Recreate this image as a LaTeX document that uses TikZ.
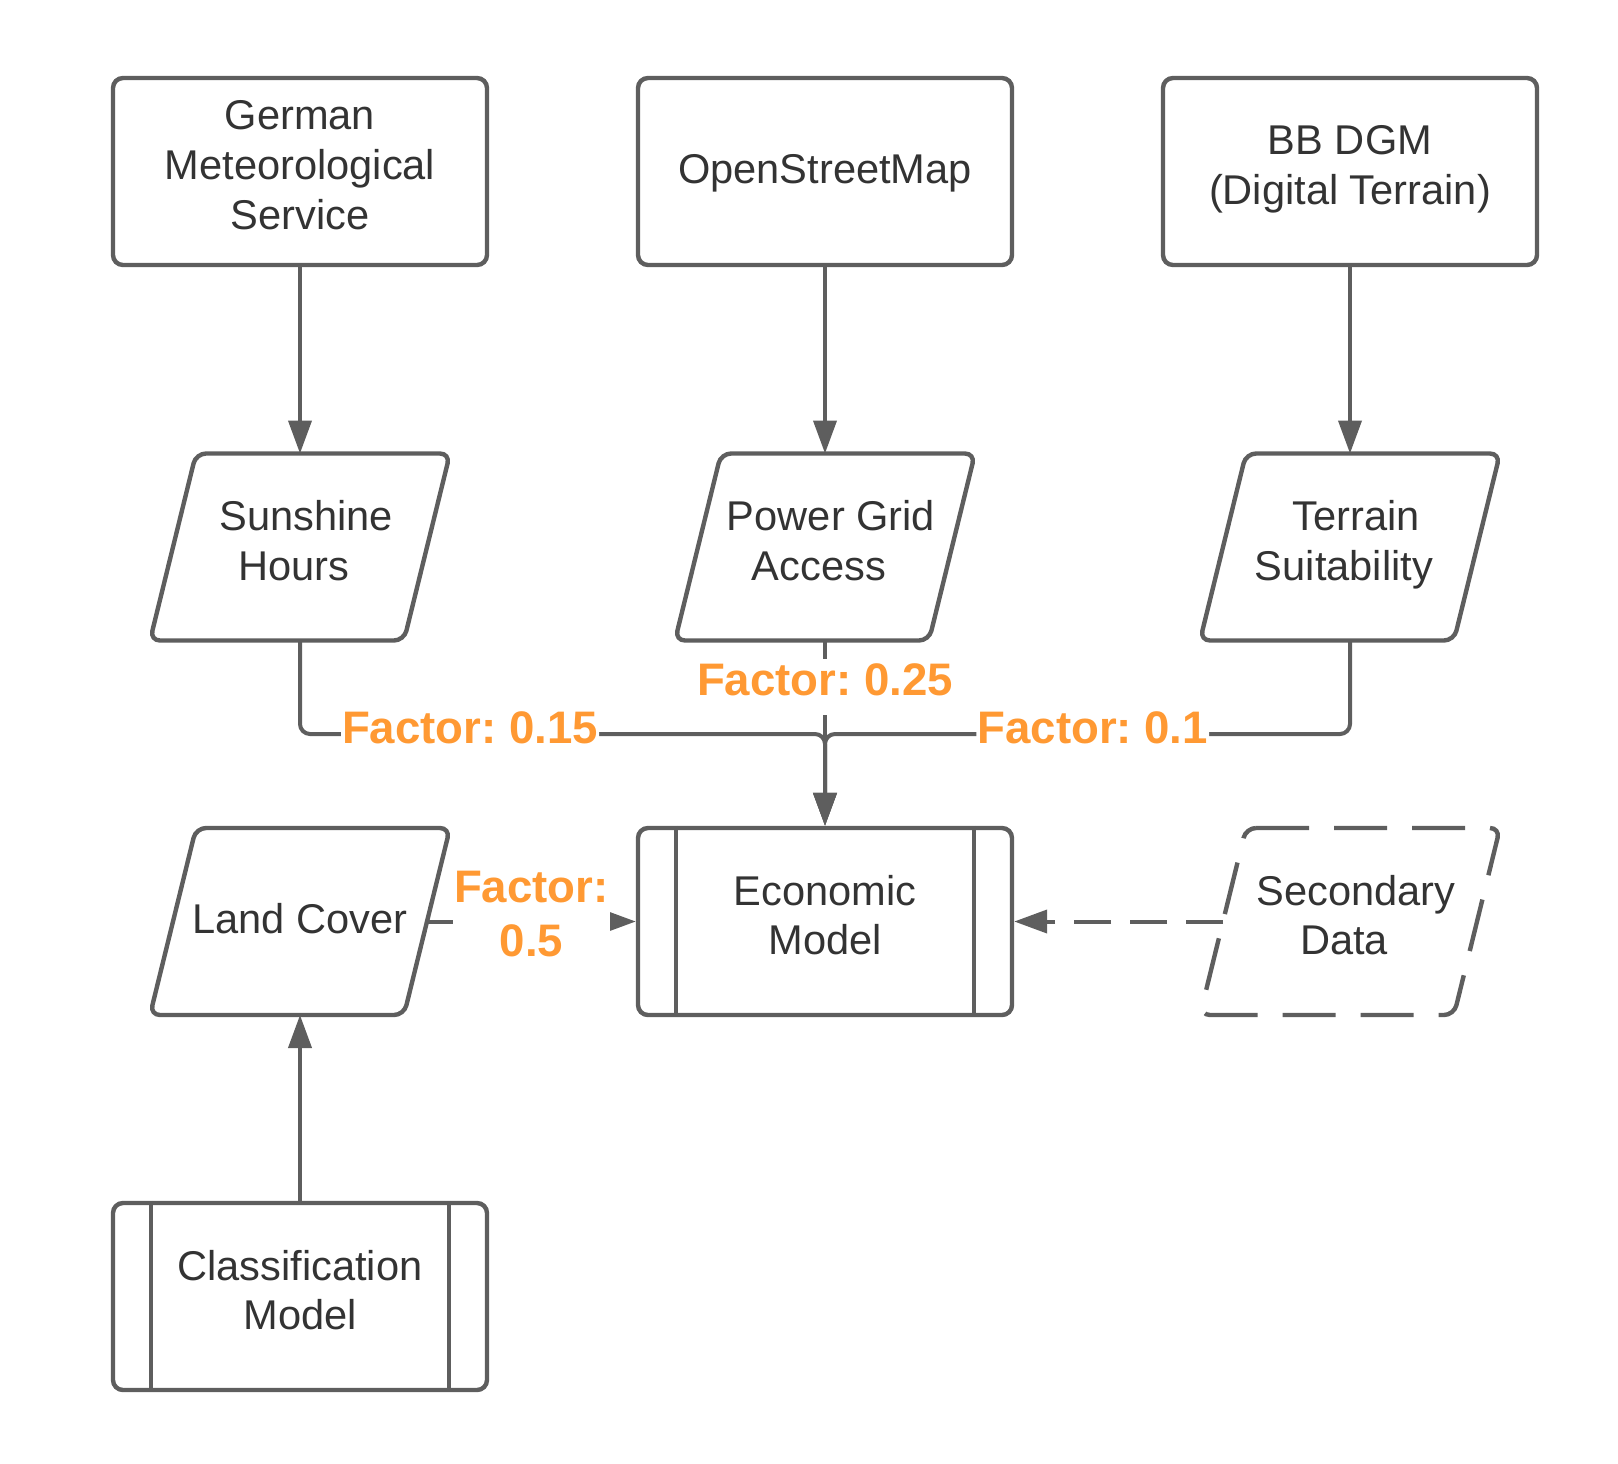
\documentclass[tikz,border=0pt]{standalone}
\usepackage{fontspec}
\setmainfont{Liberation Sans}
\usetikzlibrary{arrows.meta}

\definecolor{linegray}{HTML}{5E5E5E}
\definecolor{textgray}{HTML}{333333}
\definecolor{factororange}{RGB}{255,153,51}

\tikzset{
	boxtext/.style={text=textgray, align=center, font=\fontsize{20.8}{24.8}\selectfont,
		execute at begin node={\rule[-6.5pt]{0pt}{24.8pt}},
		execute at end node={\rule[-6.5pt]{0pt}{24.8pt}}},
	source/.style={rectangle, draw=linegray, line width=2.2pt, rounded corners=5pt,
		minimum width=187pt, minimum height=93.5pt, inner sep=0pt, boxtext},
	dataset/.style={rectangle, minimum width=127pt, minimum height=93.5pt,
		inner sep=0pt, outer sep=0pt, boxtext,
		append after command={\pgfextra{\draw[draw=linegray, line width=2.2pt, rounded corners=5pt, #1]
			([xshift=11.5pt]\tikzlastnode.north west) -- ([xshift=11.5pt]\tikzlastnode.north east)
			-- ([xshift=-11.5pt]\tikzlastnode.south east) -- ([xshift=-11.5pt]\tikzlastnode.south west)
			-- cycle;}}},
	dataset/.default=solid,
	link/.style={draw=linegray, line width=2pt, -{Triangle[length=16.5pt,width=11.5pt]}},
	factor/.style={fill=white, text=factororange, inner sep=0.5pt,
		font=\fontsize{22.8}{27}\selectfont\bfseries\frenchspacing},
	factorline/.style={factor, text height=18pt, text depth=9pt},
}

\begin{document}
\begin{tikzpicture}[x=0.5pt, y=-0.5pt]
	\useasboundingbox (0,0) rectangle (1618,1463);

	\node[source]	(dwd)		at (300, 171.5)		{German\\Meteorological\\Service};
	\node[source]	(osm)		at (825, 171.5)		{OpenStreetMap};
	\node[source]	(dgm)		at (1350, 171.5)	{BB DGM\\(Digital Terrain)};

	\node[dataset]	(sun)		at (300, 547)		{\hspace*{6pt}Sunshine\\Hours\hspace*{6pt}};
	\node[dataset]	(grid)		at (825, 547)		{\hspace*{6pt}Power Grid\\Access\hspace*{6pt}};
	\node[dataset]	(terrain)	at (1350, 547)		{\hspace*{6pt}Terrain\\Suitability\hspace*{6pt}};

	\node[dataset]	(land)		at (300, 921.5)		{Land Cover};
	\node[source]	(eco)		at (825, 921.5)		{Economic\\Model};
	\node[dataset={dash pattern=on 26.5pt off 12.5pt}]
					(second)	at (1350, 921.5)	{\hspace*{6pt}Secondary\\Data\hspace*{6pt}};

	\node[source]	(classif)	at (300, 1296.5)	{Classification\\Model};

	\draw[linegray, line width=2.2pt]
		([xshift=20pt]eco.north west) -- ([xshift=20pt]eco.south west)
		([xshift=-20pt]eco.north east) -- ([xshift=-20pt]eco.south east)
		([xshift=20pt]classif.north west) -- ([xshift=20pt]classif.south west)
		([xshift=-20pt]classif.north east) -- ([xshift=-20pt]classif.south east);

	\coordinate (merge) at (825, 734);

	\draw[link] (dwd.south) -- (sun.north);
	\draw[link] (osm.south) -- (grid.north);
	\draw[link] (dgm.south) -- (terrain.north);

	\draw[link, rounded corners=5pt] (sun.south) |- node[factorline, pos=0.662] {Factor: 0.15} (merge) -- (eco.north);
	\draw[link] (grid.south) -- node[factorline, pos=0.25] {Factor: 0.25} (eco.north);
	\draw[link, rounded corners=5pt] (terrain.south) |- node[factorline, pos=0.745] {Factor: 0.1} (merge) -- (eco.north);

	\draw[link] (land.east) -- node[factor, align=center, yshift=3.5pt] {Factor:\\0.5} (eco.west);
	\draw[link, dash pattern=on 18.5pt off 9.5pt] (second.west) -- (eco.east);
	\draw[link] (classif.north) -- (land.south);
\end{tikzpicture}
\end{document}
